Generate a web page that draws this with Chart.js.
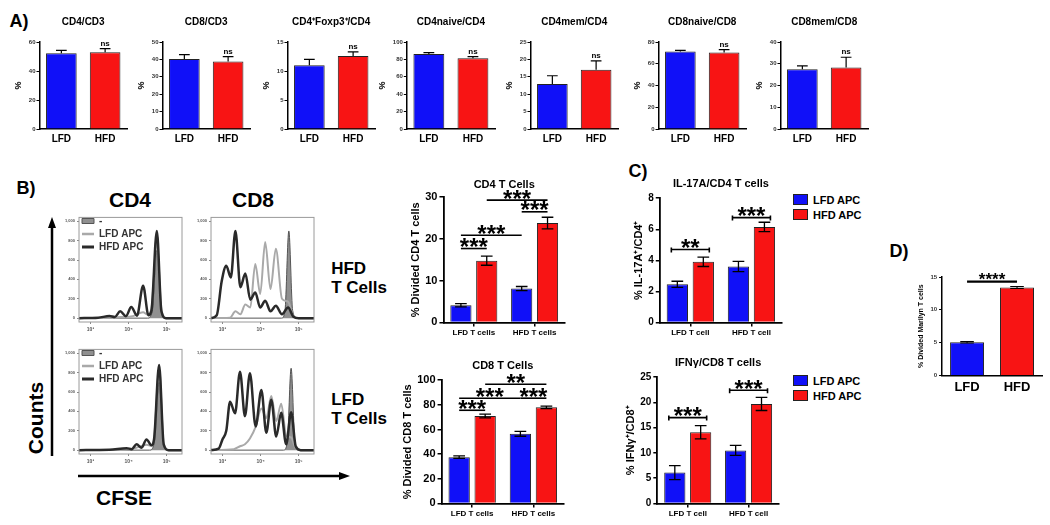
<!DOCTYPE html>
<html>
<head>
<meta charset="utf-8">
<script src="https://cdn.jsdelivr.net/npm/chart.js@4.4.0/dist/chart.umd.min.js"></script>
<style>
body { margin: 0; background: #fff; }
#fig { position: relative; width: 1050px; height: 525px; overflow: hidden; font-family: "Liberation Sans", Arial, sans-serif; font-weight: bold; color: #000; }
#fig canvas { position: absolute; }
.lbl { position: absolute; white-space: nowrap; transform: translate(-50%, -50%); line-height: 1.1; }
.panel { font-size: 18px; }
.big { font-size: 21px; }
.side { font-size: 17px; text-align: left; }
.lg { position: absolute; font-size: 11px; line-height: 15px; white-space: nowrap; }
.lg span { display: inline-block; width: 13px; height: 9px; margin-right: 5px; vertical-align: -1px; }
</style>
</head>
<body>
<div id="fig">
  <svg width="1050" height="525" style="position:absolute;left:0;top:0">
    <line x1="52" y1="456" x2="52" y2="226" stroke="#000" stroke-width="2.5"/>
    <polygon points="52,217 48,228 56,228" fill="#000"/>
    <line x1="78" y1="476" x2="340" y2="476" stroke="#000" stroke-width="2.5"/>
    <polygon points="350,476 339,472 339,480" fill="#000"/>
  </svg>
  <div class="lbl panel" style="left:19px;top:22px">A)</div>
  <div class="lbl panel" style="left:26px;top:189px">B)</div>
  <div class="lbl panel" style="left:638px;top:172px">C)</div>
  <div class="lbl panel" style="left:899px;top:252px">D)</div>
  <div class="lbl big" style="left:130px;top:200px">CD4</div>
  <div class="lbl big" style="left:253px;top:200px">CD8</div>
  <div class="lbl side" style="left:359px;top:279px">HFD<br>T Cells</div>
  <div class="lbl side" style="left:359px;top:410px">LFD<br>T Cells</div>
  <div class="lbl big" style="left:36px;top:418px;transform:translate(-50%,-50%) rotate(-90deg)">Counts</div>
  <div class="lbl big" style="left:124px;top:498px">CFSE</div>
</div>
<script>
// colours
var blue = '#1010f8';
var red = '#f81414';

// A) T cell subsets, LFD vs HFD
var dietGroups = ['LFD', 'HFD'];
var subsetTitles = ['CD4/CD3', 'CD8/CD3', 'CD4\u207AFoxp3\u207A/CD4', 'CD4naive/CD4', 'CD4mem/CD4', 'CD8naive/CD8', 'CD8mem/CD8'];
var subsetLfd = [52.2, 40.3, 11, 86.2, 12.9, 71.3, 27.5];
var subsetHfd = [52.9, 38.8, 12.6, 81.3, 17, 70.4, 28.3];
var subsetLfdErr = [2, 2.5, 1, 1.5, 2.4, 1, 1.5];
var subsetHfdErr = [2.5, 2.8, 0.7, 1.8, 2.6, 2.5, 4.7];
var subsetAxisMax = [60, 50, 15, 100, 25, 80, 40];
var subsetAxisStep = [20, 10, 5, 20, 5, 20, 10];
var subsetSignif = ['ns', 'ns', 'ns', 'ns', 'ns', 'ns', 'ns'];

// B) CFSE histograms: [log10 CFSE, count]
var cfseTicks = [3, 4, 5];
var countTicks = [0, 200, 400, 600, 800, 1000];
var cd4HfdTUnstim = [[2.7, 0], [4.5, 0], [4.62, 70], [4.74, 700], [4.86, 70], [4.98, 0], [5.4, 0]];
var cd4HfdTLfdApc = [[2.7, 0], [3.6, 5], [3.8, 12], [4.1, 20], [4.38, 60], [4.5, 35], [4.6, 100], [4.74, 780], [4.86, 90], [4.98, 0], [5.4, 0]];
var cd4HfdTHfdApc = [[2.7, 0], [3.2, 4], [3.5, 22], [3.64, 12], [3.78, 70], [3.93, 20], [4.07, 115], [4.22, 25], [4.38, 335], [4.52, 30], [4.6, 80], [4.74, 900], [4.86, 70], [4.98, 0], [5.4, 0]];
var cd8HfdTUnstim = [[2.7, 0], [4.55, 0], [4.64, 80], [4.74, 900], [4.84, 80], [4.95, 0], [5.4, 0]];
var cd8HfdTLfdApc = [[2.7, 0], [3.2, 5], [3.34, 70], [3.47, 40], [3.6, 140], [3.73, 110], [3.86, 560], [3.99, 250], [4.12, 785], [4.26, 300], [4.4, 717], [4.56, 200], [4.72, 170], [4.86, 20], [5.0, 0], [5.4, 0]];
var cd8HfdTHfdApc = [[2.7, 0], [2.85, 30], [2.98, 380], [3.1, 540], [3.22, 420], [3.34, 900], [3.47, 320], [3.6, 460], [3.73, 190], [3.86, 265], [3.99, 110], [4.12, 180], [4.26, 70], [4.4, 128], [4.56, 40], [4.72, 110], [4.86, 15], [5.0, 0], [5.4, 0]];
var cd4LfdTUnstim = [[2.7, 0], [4.55, 0], [4.67, 70], [4.8, 700], [4.92, 70], [5.05, 0], [5.4, 0]];
var cd4LfdTLfdApc = [[2.7, 0], [3.9, 4], [4.2, 25], [4.47, 55], [4.6, 45], [4.67, 120], [4.8, 830], [4.92, 60], [5.05, 0], [5.4, 0]];
var cd4LfdTHfdApc = [[2.7, 0], [3.5, 3], [3.95, 20], [4.08, 10], [4.21, 60], [4.34, 25], [4.47, 110], [4.6, 50], [4.67, 120], [4.8, 880], [4.92, 60], [5.05, 0], [5.4, 0]];
var cd8LfdTUnstim = [[2.7, 0], [4.6, 0], [4.7, 80], [4.8, 845], [4.9, 80], [5.0, 0], [5.4, 0]];
var cd8LfdTLfdApc = [[2.7, 0], [3.3, 10], [3.46, 40], [3.59, 60], [3.72, 120], [3.87, 240], [4.02, 430], [4.15, 330], [4.28, 560], [4.41, 300], [4.54, 480], [4.67, 150], [4.8, 130], [4.92, 20], [5.05, 0], [5.4, 0]];
var cd8LfdTHfdApc = [[2.7, 0], [2.9, 15], [3.0, 110], [3.1, 200], [3.2, 500], [3.33, 380], [3.46, 810], [3.59, 350], [3.72, 795], [3.87, 245], [4.02, 620], [4.15, 180], [4.28, 520], [4.41, 140], [4.54, 385], [4.67, 60], [4.8, 390], [4.92, 40], [5.05, 0], [5.4, 0]];

// B) % divided T cells, C) cytokines
var tCellGroups = ['LFD T cells', 'HFD T cells'];
var tCellGroupsC = ['LFD T cell', 'HFD T cell'];
var cd4DivLfdApc = [4.1, 8.1];
var cd4DivHfdApc = [14.8, 23.8];
var cd4DivLfdErr = [0.4, 0.5];
var cd4DivHfdErr = [1.1, 1.4];
var cd4DivBrackets = [[0, 0, 1, 0, 17.7, '***'], [0, 0, 0, 1, 20.9, '***'], [1, 0, 1, 1, 29.3, '***'], [0, 1, 1, 1, 26.5, '***']];
var cd8DivLfdApc = [37.5, 56.5];
var cd8DivHfdApc = [71, 78];
var cd8DivLfdErr = [1, 2];
var cd8DivHfdErr = [1.5, 1];
var cd8DivBrackets = [[0, 0, 1, 0, 75.6, '***'], [0, 0, 0, 1, 85.4, '***'], [0, 1, 1, 1, 85.4, '***'], [1, 0, 1, 1, 96.7, '**']];
var il17LfdApc = [2.45, 3.6];
var il17HfdApc = [3.9, 6.15];
var il17LfdErr = [0.2, 0.33];
var il17HfdErr = [0.3, 0.3];
var il17Brackets = [[0, 0, 1, 0, 4.7, '**'], [0, 1, 1, 1, 6.75, '***']];
var ifngLfdApc = [6.1, 10.5];
var ifngHfdApc = [14.1, 19.7];
var ifngLfdErr = [1.4, 1.0];
var ifngHfdErr = [1.3, 1.3];
var ifngBrackets = [[0, 0, 1, 0, 17.0, '***'], [0, 1, 1, 1, 22.4, '***']];

// D) Marilyn T cells
var marilynDivided = [5.05, 13.4];
var marilynErr = [0.12, 0.15];
var marilynBrackets = [[0, 0, 0, 1, 14.3, '****']];

var fig = document.getElementById('fig');
var FONT = '"Liberation Sans", Arial, sans-serif';
Chart.defaults.font.family = FONT;
Chart.defaults.color = '#000';

function bold(size) { return { size: size, weight: 'bold', family: FONT }; }

var errorBarsPlugin = {
    id: 'errorBars',
    afterDatasetsDraw: function (chart, args, opts) {
        var ctx = chart.ctx;
        var y = chart.scales.y;
        ctx.save();
        ctx.strokeStyle = '#000';
        ctx.lineWidth = opts.width || 1.2;
        chart.data.datasets.forEach(function (ds, di) {
            if (!ds.errors) return;
            chart.getDatasetMeta(di).data.forEach(function (bar, i) {
                var v = ds.data[i], e = ds.errors[i];
                var top = y.getPixelForValue(v + e);
                var bottom = opts.upOnly ? y.getPixelForValue(v) : y.getPixelForValue(v - e);
                var half = bar.width * (opts.cap || 0.4) / 2;
                ctx.beginPath();
                ctx.moveTo(bar.x, top); ctx.lineTo(bar.x, bottom);
                ctx.moveTo(bar.x - half, top); ctx.lineTo(bar.x + half, top);
                if (!opts.upOnly) { ctx.moveTo(bar.x - half, bottom); ctx.lineTo(bar.x + half, bottom); }
                ctx.stroke();
            });
        });
        ctx.restore();
    }
};

// significance: brackets between bars, or a plain label over one bar
var signifPlugin = {
    id: 'signif',
    afterDatasetsDraw: function (chart, args, opts) {
        var ctx = chart.ctx;
        var y = chart.scales.y;
        ctx.save();
        ctx.fillStyle = '#000';
        ctx.strokeStyle = '#000';
        ctx.textAlign = 'center';
        ctx.font = 'bold ' + opts.size + 'px ' + FONT;
        (opts.labels || []).forEach(function (l) {
            var ds = chart.data.datasets[l[0]];
            var bar = chart.getDatasetMeta(l[0]).data[l[1]];
            var py = y.getPixelForValue(ds.data[l[1]] + (ds.errors ? ds.errors[l[1]] : 0));
            ctx.textBaseline = 'bottom';
            ctx.fillText(l[2], bar.x, py - 1);
        });
        ctx.lineWidth = opts.lineWidth || 1.5;
        (opts.brackets || []).forEach(function (b) {
            var a = chart.getDatasetMeta(b[0]).data[b[1]];
            var c = chart.getDatasetMeta(b[2]).data[b[3]];
            var ext = opts.extend || 0;
            var x0 = a.x - ext, x1 = c.x + ext;
            var py = y.getPixelForValue(b[4]);
            ctx.beginPath();
            ctx.moveTo(x0, py); ctx.lineTo(x1, py);
            if (opts.endTicks) {
                ctx.moveTo(x0, py - 2); ctx.lineTo(x0, py + opts.endTicks);
                ctx.moveTo(x1, py - 2); ctx.lineTo(x1, py + opts.endTicks);
            }
            ctx.stroke();
            ctx.textBaseline = 'alphabetic';
            var m = ctx.measureText(b[5]);
            ctx.fillText(b[5], (x0 + x1) / 2, py - 1.5 - m.actualBoundingBoxDescent);
        });
        ctx.restore();
    }
};

var framePlugin = {
    id: 'frame',
    afterDraw: function (chart) {
        var a = chart.chartArea, ctx = chart.ctx;
        ctx.save();
        ctx.strokeStyle = '#9a9a9a';
        ctx.lineWidth = 1;
        ctx.strokeRect(a.left, a.top, a.right - a.left, a.bottom - a.top);
        ctx.restore();
    }
};

// create a chart whose plot area lands exactly on plot {x, y, w, h}
function addChart(plot, makeConfig) {
    var canvas = document.createElement('canvas');
    fig.appendChild(canvas);
    var w = plot.w + 60, h = plot.h + 60, chart;
    for (var pass = 0; pass < 3; pass++) {
        canvas.width = w; canvas.height = h;
        canvas.style.width = w + 'px'; canvas.style.height = h + 'px';
        chart = new Chart(canvas, makeConfig());
        var dw = plot.w - (chart.chartArea.right - chart.chartArea.left);
        var dh = plot.h - (chart.chartArea.bottom - chart.chartArea.top);
        if ((Math.abs(dw) < 0.5 && Math.abs(dh) < 0.5) || pass === 2) break;
        chart.destroy();
        w = Math.round(w + dw); h = Math.round(h + dh);
    }
    canvas.style.left = (plot.x - chart.chartArea.left) + 'px';
    canvas.style.top = (plot.y - chart.chartArea.top) + 'px';
    return chart;
}

// legend next to a chart, built from the chart's own legend items
function addLegend(chart, x, y) {
    var box = document.createElement('div');
    box.className = 'lg';
    box.style.left = x + 'px';
    box.style.top = y + 'px';
    Chart.defaults.plugins.legend.labels.generateLabels(chart).forEach(function (item) {
        var row = document.createElement('div');
        var sw = document.createElement('span');
        sw.style.background = item.fillStyle;
        sw.style.border = '1px solid #222';
        row.appendChild(sw);
        row.appendChild(document.createTextNode(item.text));
        box.appendChild(row);
    });
    fig.appendChild(box);
}

// ---- A) top row
var subsetLeft = [39, 162, 287, 407, 530, 658, 780];
subsetTitles.forEach(function (title, k) {
    addChart({ x: subsetLeft[k], y: 42, w: 88, h: 87 }, function () {
        return {
            type: 'bar',
            data: {
                labels: dietGroups,
                datasets: [{
                    data: [subsetLfd[k], subsetHfd[k]],
                    errors: [subsetLfdErr[k], subsetHfdErr[k]],
                    backgroundColor: [blue, red],
                    borderColor: '#222',
                    borderWidth: 1,
                    barPercentage: 0.7,
                    categoryPercentage: 1
                }]
            },
            options: {
                responsive: false, animation: false, devicePixelRatio: 1,
                layout: { padding: { right: 6 } },
                plugins: {
                    legend: { display: false }, tooltip: { enabled: false },
                    title: { display: true, text: title, fullSize: false, font: bold(10), color: '#000', padding: { top: 6, bottom: 14 } },
                    errorBars: { cap: 0.35, width: 1.2, upOnly: true },
                    signif: { size: 8, labels: [[0, 1, subsetSignif[k]]] }
                },
                scales: {
                    x: {
                        grid: { display: true, drawOnChartArea: false, drawTicks: false },
                        border: { color: '#000', width: 1.5 },
                        ticks: { font: bold(10), color: '#000', padding: 4, maxRotation: 0 }
                    },
                    y: {
                        min: 0, max: subsetAxisMax[k],
                        ticks: { stepSize: subsetAxisStep[k], font: bold(6), color: '#333', padding: 1 },
                        grid: { drawOnChartArea: false, tickLength: 3, color: '#000' },
                        border: { color: '#000', width: 1.5 },
                        title: { display: true, text: '%', font: bold(9), color: '#000', padding: { top: 0, bottom: 4 } }
                    }
                }
            },
            plugins: [errorBarsPlugin, signifPlugin]
        };
    });
});

// ---- B) CFSE histograms
function pts(list) { return list.map(function (p) { return { x: p[0], y: p[1] }; }); }
var sup = { 3: '\u00B3', 4: '\u2074', 5: '\u2075' };
function histConfig(unstim, lfdApc, hfdApc, showLegend) {
    return function () {
        return {
            type: 'line',
            data: {
                datasets: [
                    { label: '-', data: pts(unstim), fill: 'origin', backgroundColor: 'rgba(125,125,125,0.85)', borderColor: '#555', borderWidth: 1, pointRadius: 0, pointStyle: 'rect', pointBorderWidth: 1, cubicInterpolationMode: 'monotone', order: 3 },
                    { label: 'LFD APC', data: pts(lfdApc), fill: false, borderColor: '#a9a9a9', borderWidth: 2, pointRadius: 0, pointStyle: 'line', pointBorderWidth: 2.5, cubicInterpolationMode: 'monotone', order: 2 },
                    { label: 'HFD APC', data: pts(hfdApc), fill: false, borderColor: '#2a2a2a', borderWidth: 2.5, pointRadius: 0, pointStyle: 'line', pointBorderWidth: 3, cubicInterpolationMode: 'monotone', order: 1 }
                ]
            },
            options: {
                responsive: false, animation: false, devicePixelRatio: 1,
                layout: { padding: { right: 4, top: 4 } },
                plugins: {
                    tooltip: { enabled: false },
                    legend: {
                        display: showLegend, position: 'chartArea', align: 'start',
                        labels: {
                            usePointStyle: true, pointStyleWidth: 12, boxHeight: 5, padding: 3,
                            font: bold(10), color: '#333',
                            sort: function (a, b) { return a.datasetIndex - b.datasetIndex; }
                        }
                    }
                },
                scales: {
                    x: {
                        type: 'linear', min: 2.7, max: 5.4,
                        afterBuildTicks: function (s) { s.ticks = cfseTicks.map(function (v) { return { value: v }; }); },
                        ticks: { font: bold(5), color: '#555', padding: 3, callback: function (v) { return '10' + sup[v]; } },
                        grid: { drawOnChartArea: false, tickLength: 2, color: '#888' },
                        border: { display: false }
                    },
                    y: {
                        min: -40, max: 1040,
                        afterBuildTicks: function (s) { s.ticks = countTicks.map(function (v) { return { value: v }; }); },
                        ticks: { font: bold(4), color: '#555', padding: 2 },
                        grid: { drawOnChartArea: false, tickLength: 2, color: '#888' },
                        border: { display: false }
                    }
                }
            },
            plugins: [framePlugin]
        };
    };
}
addChart({ x: 79, y: 217, w: 103, h: 105 }, histConfig(cd4HfdTUnstim, cd4HfdTLfdApc, cd4HfdTHfdApc, true));
addChart({ x: 211, y: 217, w: 103, h: 105 }, histConfig(cd8HfdTUnstim, cd8HfdTLfdApc, cd8HfdTHfdApc, false));
addChart({ x: 79, y: 349, w: 103, h: 105 }, histConfig(cd4LfdTUnstim, cd4LfdTLfdApc, cd4LfdTHfdApc, true));
addChart({ x: 211, y: 349, w: 103, h: 105 }, histConfig(cd8LfdTUnstim, cd8LfdTLfdApc, cd8LfdTHfdApc, false));

// ---- B), C) grouped bars
function groupConfig(o) {
    return function () {
        return {
            type: 'bar',
            data: {
                labels: o.labels,
                datasets: [
                    { label: 'LFD APC', data: o.lfd, errors: o.lfdErr, backgroundColor: blue, borderColor: '#222', borderWidth: 1, barPercentage: 0.82, categoryPercentage: 0.85 },
                    { label: 'HFD APC', data: o.hfd, errors: o.hfdErr, backgroundColor: red, borderColor: '#222', borderWidth: 1, barPercentage: 0.82, categoryPercentage: 0.85 }
                ]
            },
            options: {
                responsive: false, animation: false, devicePixelRatio: 1,
                layout: { padding: { right: 4 } },
                plugins: {
                    tooltip: { enabled: false },
                    legend: { display: false },
                    title: { display: true, text: o.title, fullSize: false, font: bold(11), color: '#000', padding: { top: 4, bottom: o.titleGap } },
                    errorBars: { cap: 0.55, width: 1.3 },
                    signif: { size: 24, brackets: o.brackets, lineWidth: 1.6, endTicks: o.endTicks, extend: o.extend || 0 }
                },
                scales: {
                    x: {
                        grid: { display: true, offset: false, drawOnChartArea: false, tickLength: 4, color: '#000', lineWidth: 1.5 },
                        border: { color: '#000', width: 1.8 },
                        ticks: { font: bold(8), color: '#000', padding: 2, maxRotation: 0 }
                    },
                    y: {
                        min: 0, max: o.max,
                        ticks: { stepSize: o.step, font: bold(o.tickSize || 11), color: '#000', padding: 2 },
                        grid: { drawOnChartArea: false, tickLength: 4, color: '#000', lineWidth: 1.5 },
                        border: { color: '#000', width: 1.8 },
                        title: { display: true, text: o.yTitle, font: bold(o.yTitleSize || 11), color: '#000', padding: { top: 0, bottom: 1 } }
                    }
                }
            },
            plugins: [errorBarsPlugin, signifPlugin]
        };
    };
}
addChart({ x: 443, y: 197, w: 122, h: 125 }, groupConfig({
    labels: tCellGroups, lfd: cd4DivLfdApc, hfd: cd4DivHfdApc, lfdErr: cd4DivLfdErr, hfdErr: cd4DivHfdErr,
    title: 'CD4 T Cells', titleGap: 6, max: 30, step: 10, yTitle: '% Divided CD4 T cells', brackets: cd4DivBrackets
}));
addChart({ x: 442, y: 380, w: 122, h: 123 }, groupConfig({
    labels: tCellGroups, lfd: cd8DivLfdApc, hfd: cd8DivHfdApc, lfdErr: cd8DivLfdErr, hfdErr: cd8DivHfdErr,
    title: 'CD8 T Cells', titleGap: 8, max: 100, step: 20, yTitle: '% Divided CD8 T cells', brackets: cd8DivBrackets
}));
var il17Chart = addChart({ x: 660, y: 198, w: 122, h: 124 }, groupConfig({
    labels: tCellGroupsC, lfd: il17LfdApc, hfd: il17HfdApc, lfdErr: il17LfdErr, hfdErr: il17HfdErr,
    title: 'IL-17A/CD4 T cells', titleGap: 8, max: 8, step: 2, tickSize: 10, yTitle: '% IL-17A\u207A/CD4\u207A', brackets: il17Brackets,
    endTicks: 3, extend: 6
}));
addLegend(il17Chart, 793, 193);
var ifngChart = addChart({ x: 657, y: 377, w: 122, h: 126 }, groupConfig({
    labels: tCellGroupsC, lfd: ifngLfdApc, hfd: ifngHfdApc, lfdErr: ifngLfdErr, hfdErr: ifngHfdErr,
    title: 'IFN\u03B3/CD8 T cells', titleGap: 8, max: 25, step: 5, tickSize: 10, yTitle: '% IFN\u03B3\u207A/CD8\u207A', brackets: ifngBrackets,
    endTicks: 3, extend: 6
}));
addLegend(ifngChart, 793, 374);

// ---- D) Marilyn T cells
addChart({ x: 942, y: 277, w: 100, h: 98 }, function () {
    return {
        type: 'bar',
        data: {
            labels: dietGroups,
            datasets: [{
                data: marilynDivided, errors: marilynErr,
                backgroundColor: [blue, red], borderColor: '#222', borderWidth: 1,
                barPercentage: 0.68, categoryPercentage: 1
            }]
        },
        options: {
            responsive: false, animation: false, devicePixelRatio: 1,
            layout: { padding: { right: 2, top: 14 } },
            plugins: {
                legend: { display: false }, tooltip: { enabled: false },
                errorBars: { cap: 0.4, width: 1 },
                signif: { size: 17, brackets: marilynBrackets, lineWidth: 2.2 }
            },
            scales: {
                x: {
                    grid: { display: true, drawOnChartArea: false, drawTicks: false },
                    border: { color: '#000', width: 1.5 },
                    ticks: { font: bold(13), color: '#000', padding: 4, maxRotation: 0 }
                },
                y: {
                    min: 0, max: 15,
                    ticks: { stepSize: 5, font: bold(6), color: '#333', padding: 2 },
                    grid: { drawOnChartArea: false, tickLength: 3, color: '#000' },
                    border: { color: '#000', width: 1.5 },
                    title: { display: true, text: '% Divided Marilyn T cells', font: bold(7), color: '#000', padding: { top: 0, bottom: 3 } }
                }
            }
        },
        plugins: [errorBarsPlugin, signifPlugin]
    };
});
</script>
</body>
</html>
